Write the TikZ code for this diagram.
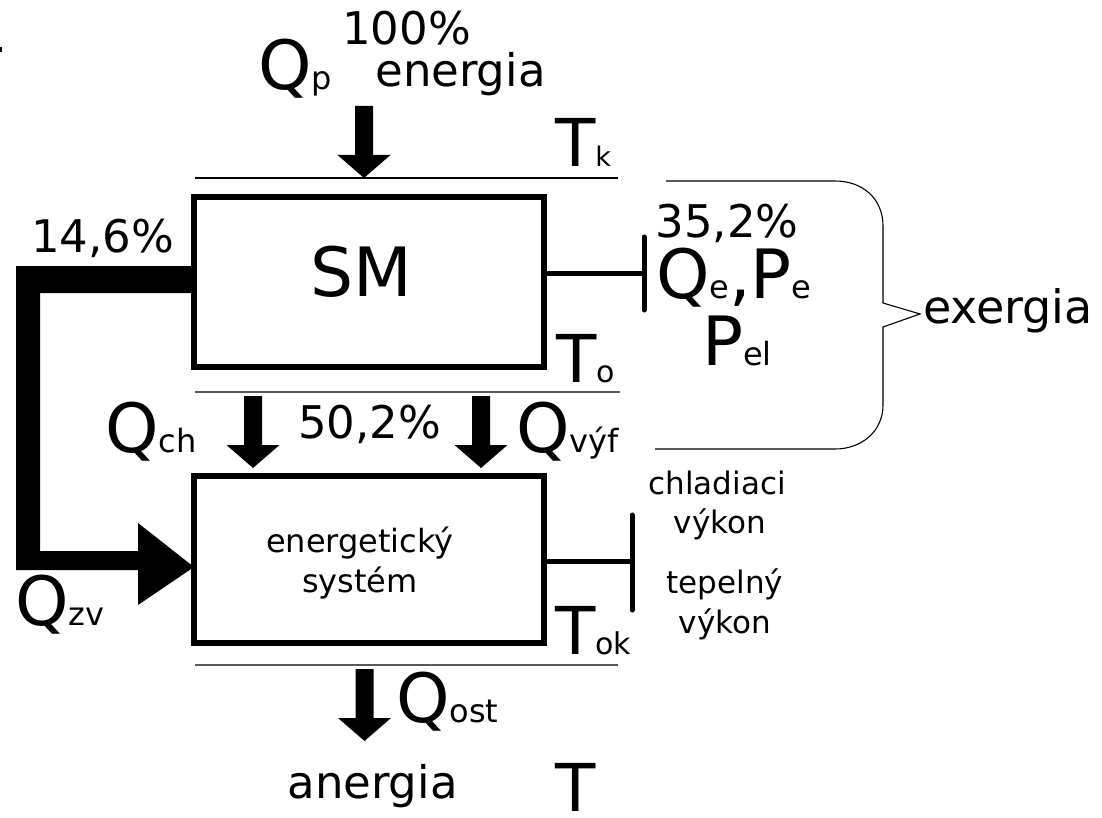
\documentclass[tikz,border=0pt]{standalone}
\usepackage{fontspec}
\setmainfont{DejaVu Sans}
\newcommand\fsz[1]{\fontsize{#1}{#1}\selectfont}
\newcommand\bigsub[2]{{\fsz{68}#1}{\fsz{32}#2}}
\begin{document}
\begin{tikzpicture}[x=1pt,y=-1pt,
  txt/.style={inner sep=0pt,outer sep=0pt},
  box/.style={draw,line width=6pt,minimum width=349.5pt,inner sep=0pt,outer sep=0pt},
  conn/.style={line width=5pt},
  bar/.style={line width=5pt,line cap=round},
  thinline/.style={line width=1.3pt},
  greyline/.style={line width=1.3pt,black!65},
  bracel/.style={line width=1.1pt},
  darrow/.pic={\fill (0,0) -- (-26.5,-23) -- (-9,-23) -- (-9,-72) -- (9,-72) -- (9,-23) -- (26.5,-23) -- cycle;}]
\useasboundingbox (0,0) rectangle (1102,818);
\fill (0,47) rectangle (2,52);
% boxes
\node[box,minimum height=170pt] (sm) at (368.75,282) {};
\node[box,minimum height=167.5pt] (es) at (368.75,559.25) {};
\node[txt,anchor=base] (smlabel) at (361,296) {\fsz{68}SM};
\node[txt,anchor=base] (es1) at (360,552) {\fsz{32}energetický};
\node[txt,anchor=base] (es2) at (360,592) {\fsz{32}systém};
% thin level lines
\coordinate (l1a) at (195,178); \coordinate (l1b) at (618,178);
\coordinate (l2a) at (195,392); \coordinate (l2b) at (620,392);
\coordinate (l3a) at (195,665); \coordinate (l3b) at (618,665);
\draw[thinline] (l1a) -- (l1b);
\draw[greyline] (l2a) -- (l2b);
\draw[greyline] (l3a) -- (l3b);
% block arrows
\coordinate (tipA) at (364,178);
\coordinate (tipB) at (253,468);
\coordinate (tipC) at (481,468);
\coordinate (tipD) at (364.5,741);
\pic at (tipA) {darrow};
\pic at (tipB) {darrow};
\pic at (tipC) {darrow};
\pic at (tipD) {darrow};
% thick feedback arrow from SM to energy system
\fill (sm.west |- 0,266) -- (16,266) -- (16,570) -- (138,570) -- (138,605) -- (es.west |- 0,567) -- (138,523) -- (138,551) -- (40,551) -- (40,293) -- (sm.west |- 0,293) -- cycle;
% right connectors
\coordinate (bar1) at (644,273);
\coordinate (bar1t) at (644,237); \coordinate (bar1b) at (644,310);
\draw[conn] (sm.east |- bar1) -- (bar1);
\draw[bar] (bar1t) -- (bar1b);
\coordinate (bar2) at (632,561);
\coordinate (bar2t) at (632,515); \coordinate (bar2b) at (632,610);
\draw[conn] (es.east |- bar2) -- (bar2);
\draw[bar] (bar2t) -- (bar2b);
% brace
\coordinate (brA) at (666,181);
\coordinate (brTip) at (920,314);
\coordinate (brB) at (655,449);
\draw[bracel,line join=miter] (brA) -- (835,181) .. controls (862,181) and (883,198) .. (883,226) -- (883,303) -- (brTip) -- (883,327) -- (883,405) .. controls (883,431) and (862,449) .. (835,449) -- (brB);
% texts
\node[txt,anchor=base] (p100) at (406.5,45) {\fsz{45}100\%};
\node[txt,anchor=base] (energia) at (460.5,87) {\fsz{45}energia};
\node[txt,anchor=base west] (qp) at (258,90) {\bigsub{Q}{p}};
\node[txt,anchor=base west] (tk) at (555,167) {{\fsz{66}T}{\fsz{27}k}};
\node[txt,anchor=base west] (to) at (556,382) {{\fsz{66}T}{\fsz{30}o}};
\node[txt,anchor=base west] (tok) at (555,654) {{\fsz{66}T}{\fsz{30}ok}};
\node[txt,anchor=base west] (tbot) at (555,811) {\fsz{66}T};
\node[txt,anchor=base] (p146) at (102.5,253) {\fsz{45}14,6\%};
\node[txt,anchor=base] (p352) at (727,238) {\fsz{45}35,2\%};
\node[txt,anchor=base west] (qepe) at (656,298) {\bigsub{Q}{e}{\fsz{68},}\bigsub{P}{e}};
\node[txt,anchor=base west] (pel) at (702,365) {\bigsub{P}{el}};
\node[txt,anchor=base west] (exergia) at (923,323) {\fsz{46}exergia};
\node[txt,anchor=base west] (qch) at (105,452) {\bigsub{Q}{ch}};
\node[txt,anchor=base] (p502) at (369.5,438) {\fsz{45}50,2\%};
\node[txt,anchor=base west] (qvyf) at (516,452) {\bigsub{Q}{výf}};
\node[txt,anchor=base west] (qzv) at (15,625) {\bigsub{Q}{zv}};
\node[txt,anchor=base] (chl) at (717,494) {\fsz{31}chladiaci};
\node[txt,anchor=base] (vyk1) at (720,533) {\fsz{31}výkon};
\node[txt,anchor=base] (tep) at (725,593) {\fsz{31}tepelný};
\node[txt,anchor=base] (vyk2) at (725,633) {\fsz{31}výkon};
\node[txt,anchor=base west] (qost) at (396,722) {\bigsub{Q}{ost}};
\node[txt,anchor=base] (anergia) at (372.5,798) {\fsz{45}anergia};
\end{tikzpicture}
\end{document}
